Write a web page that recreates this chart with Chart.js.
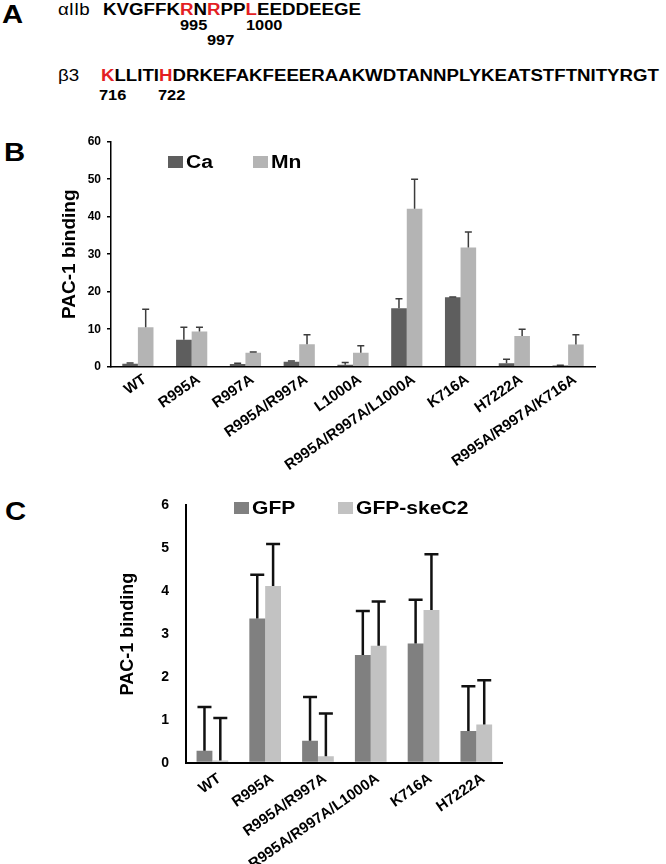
<!DOCTYPE html>
<html>
<head>
<meta charset="utf-8">
<script src="https://cdn.jsdelivr.net/npm/chart.js@4.4.1/dist/chart.umd.min.js"></script>
<style>
  body { margin: 0; background: #fff; }
  #page { position: relative; width: 666px; height: 864px; overflow: hidden; font-family: "Liberation Sans", Arial, sans-serif; color: #000; }
  .t { position: absolute; white-space: nowrap; line-height: 1; transform-origin: left top; }
  .wide { transform: scaleX(1.17); }
  .red { color: #e31e24; }
  .panel { font-size: 25px; font-weight: bold; }
  .seq { font-size: 16px; font-weight: bold; }
  .num { font-size: 14px; font-weight: bold; }
  .leg { font-size: 18px; font-weight: bold; }
  .sw { position: absolute; width: 15px; height: 12px; }
  canvas { position: absolute; left: 0; }
</style>
</head>
<body>
<div id="page">
  <!-- panel A: sequences -->
  <div class="t panel wide" style="left:2px;top:2px">A</div>
  <div class="t wide" style="left:58px;top:2px;font-size:16px">αIIb</div>
  <div class="t seq wide" style="left:103px;top:2px">KVGFFK<span class="red">R</span>N<span class="red">R</span>PP<span class="red">L</span>EEDDEEGE</div>
  <div class="t num wide" style="left:180px;top:18px">995</div>
  <div class="t num wide" style="left:207px;top:33px">997</div>
  <div class="t num wide" style="left:246px;top:18px">1000</div>
  <div class="t wide" style="left:58px;top:68px;font-size:16px">β3</div>
  <div class="t seq" style="left:101px;top:68px;transform:scaleX(1.165)"><span class="red">K</span>LLITI<span class="red">H</span>DRKEFAKFEEERAAKWDTANNPLYKEATSTFTNITYRGT</div>
  <div class="t num wide" style="left:99px;top:88px">716</div>
  <div class="t num wide" style="left:158px;top:88px">722</div>

  <div class="t panel wide" style="left:4px;top:140px">B</div>
  <div class="t panel wide" style="left:5px;top:499px">C</div>

  <canvas id="chartB" width="666" height="380" style="top:120px"></canvas>
  <canvas id="chartC" width="666" height="384" style="top:480px"></canvas>
  <div id="legB"></div>
  <div id="legC"></div>
</div>

<script>
// panel B data
const mutantsB = ['WT', 'R995A', 'R997A', 'R995A/R997A', 'L1000A', 'R995A/R997A/L1000A', 'K716A', 'H7222A', 'R995A/R997A/K716A'];
const caValues = [0.8, 7.2, 0.7, 1.3, 0.5, 15.6, 18.5, 0.9, 0.3];
const caErrors = [0.2, 3.3, 0.2, 0.2, 0.6, 2.5, 0.1, 1.1, 0.1];
const mnValues = [10.5, 9.4, 3.7, 6.0, 3.7, 42.1, 31.8, 8.2, 5.9];
const mnErrors = [4.8, 1.1, 0.2, 2.5, 1.9, 7.9, 4.1, 1.8, 2.6];
const ticksB = [0, 10, 20, 30, 40, 50, 60];

// panel C data
const mutantsC = ['WT', 'R995A', 'R995A/R997A', 'R995A/R997A/L1000A', 'K716A', 'H7222A'];
const gfpValues = [0.28, 3.36, 0.51, 2.51, 2.78, 0.74];
const gfpErrors = [1.02, 1.02, 1.02, 1.03, 1.02, 1.04];
const skeValues = [0.05, 4.12, 0.15, 2.73, 3.56, 0.89];
const skeErrors = [0.99, 0.98, 1.00, 1.03, 1.30, 1.03];
const ticksC = [0, 1, 2, 3, 4, 5, 6];

const FONT = '"Liberation Sans", Arial, sans-serif';

// one-sided error bars with a cap
const errorBars = {
  id: 'errorBars',
  afterDatasetsDraw(chart, args, opts) {
    const ctx = chart.ctx;
    const y = chart.scales.y;
    chart.data.datasets.forEach((ds, i) => {
      chart.getDatasetMeta(i).data.forEach((bar, j) => {
        const top = y.getPixelForValue(ds.data[j] + ds.errors[j]);
        ctx.save();
        ctx.strokeStyle = opts.color;
        ctx.lineWidth = opts.width;
        ctx.beginPath();
        ctx.moveTo(bar.x, bar.y);
        ctx.lineTo(bar.x, top);
        ctx.moveTo(bar.x - opts.cap / 2, top);
        ctx.lineTo(bar.x + opts.cap / 2, top);
        ctx.stroke();
        ctx.restore();
      });
    });
  }
};

function makeChart(id, o) {
  return new Chart(document.getElementById(id), {
    type: 'bar',
    data: {
      labels: o.labels,
      datasets: o.sets.map(s => ({
        label: s.label, data: s.data, errors: s.errors,
        backgroundColor: s.color, borderWidth: 0,
        categoryPercentage: o.catPct, barPercentage: 1.0
      }))
    },
    plugins: [errorBars],
    options: {
      responsive: false,
      animation: false,
      layout: { padding: o.padding },
      plugins: {
        legend: { display: false },
        tooltip: { enabled: false },
        errorBars: o.err
      },
      scales: {
        x: {
          grid: { drawOnChartArea: false, drawTicks: false },
          border: { color: '#000', width: o.axisWidth },
          ticks: {
            color: '#000', autoSkip: false, minRotation: 35, maxRotation: 35,
            labelOffset: 7, padding: o.xPad, font: { family: FONT, size: 15, weight: 'bold' }
          },
          afterFit: s => { s.height = o.xHeight; }
        },
        y: {
          min: 0, max: o.ticks[o.ticks.length - 1],
          afterBuildTicks: s => { s.ticks = o.ticks.map(v => ({ value: v })); },
          grid: { drawOnChartArea: false, drawTicks: o.yTickLen > 0, tickLength: o.yTickLen, color: '#000', lineWidth: o.axisWidth },
          border: { color: '#000', width: o.axisWidth },
          ticks: { color: '#000', padding: o.yPad, font: { family: FONT, size: o.yFont, weight: 'bold' } },
          title: {
            display: true, text: 'PAC-1 binding', color: '#000',
            font: { family: FONT, size: o.titleSize, weight: 'bold' },
            padding: { top: o.titlePad, bottom: 0 }
          },
          afterFit: s => { s.width = o.yWidth; }
        }
      }
    }
  });
}

const chartB = makeChart('chartB', {
  labels: mutantsB,
  sets: [
    { label: 'Ca', data: caValues, errors: caErrors, color: '#5e5e5e' },
    { label: 'Mn', data: mnValues, errors: mnErrors, color: '#b4b4b4' }
  ],
  ticks: ticksB, catPct: 0.58,
  padding: { top: 21.7, right: 71, bottom: 0, left: 0 },
  xHeight: 133.3, yWidth: 111, xPad: 4, yPad: 6, yTickLen: 4, yFont: 12,
  axisWidth: 1.5, titleSize: 19, titlePad: 58.6,
  err: { color: '#3c3c3c', width: 1.5, cap: 7 }
});

const chartC = makeChart('chartC', {
  labels: mutantsC,
  sets: [
    { label: 'GFP', data: gfpValues, errors: gfpErrors, color: '#808080' },
    { label: 'GFP-skeC2', data: skeValues, errors: skeErrors, color: '#c2c2c2' }
  ],
  ticks: ticksC, catPct: 0.6,
  padding: { top: 17.9, right: 163.3, bottom: 0, left: 0 },
  xHeight: 101.3, yWidth: 186, xPad: 7, yPad: 17, yTickLen: 0, yFont: 14,
  axisWidth: 2, titleSize: 18, titlePad: 117.5,
  err: { color: '#111', width: 2.5, cap: 14 }
});

// legends placed inside the plots, taken from the datasets
function legend(el, chart, spots) {
  chart.data.datasets.forEach((ds, i) => {
    const p = spots[i];
    el.insertAdjacentHTML('beforeend',
      '<div class="sw" style="left:' + p.x + 'px;top:' + p.y + 'px;background:' + ds.backgroundColor + '"></div>' +
      '<div class="t leg wide" style="left:' + (p.x + 18) + 'px;top:' + (p.y - 3) + 'px">' + ds.label + '</div>');
  });
}
legend(document.getElementById('legB'), chartB, [{ x: 168, y: 156 }, { x: 253, y: 156 }]);
legend(document.getElementById('legC'), chartC, [{ x: 234, y: 502 }, { x: 338, y: 502 }]);
</script>
</body>
</html>
